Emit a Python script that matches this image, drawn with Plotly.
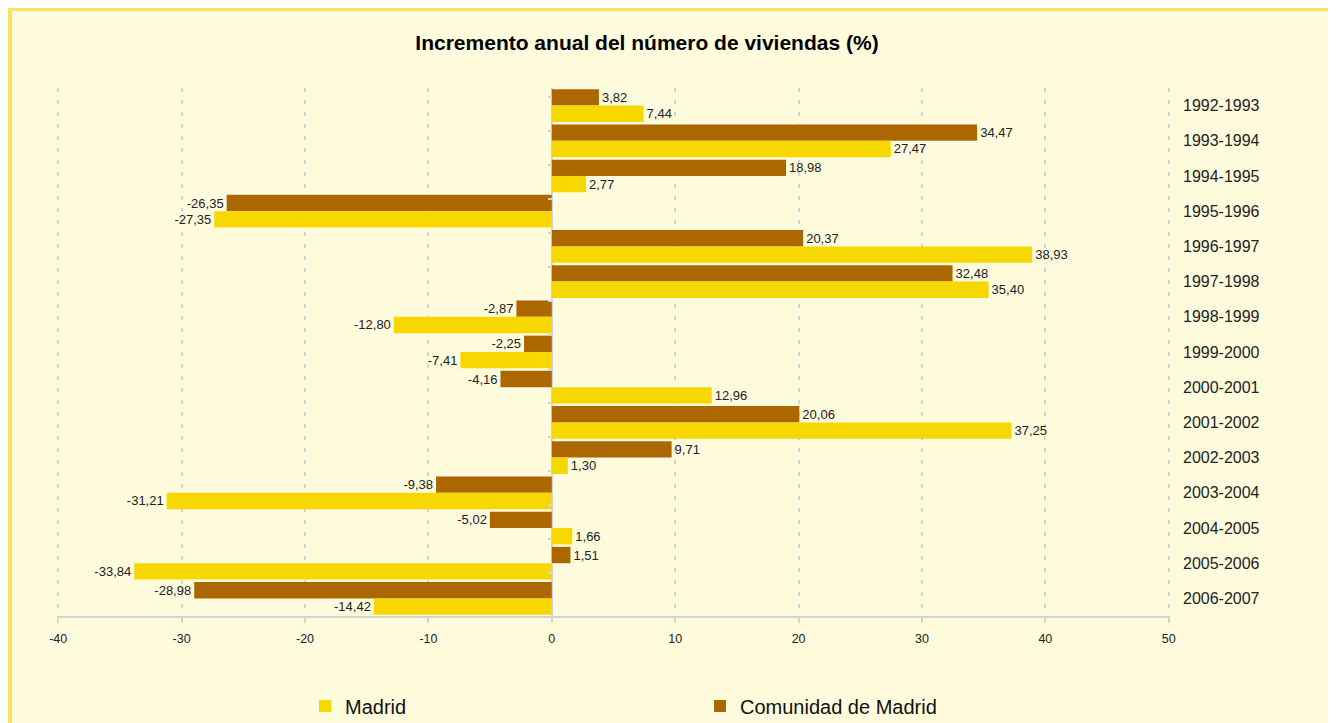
import plotly.graph_objects as go

periods = ["1992-1993", "1993-1994", "1994-1995", "1995-1996", "1996-1997",
           "1997-1998", "1998-1999", "1999-2000", "2000-2001", "2001-2002",
           "2002-2003", "2003-2004", "2004-2005", "2005-2006", "2006-2007"]
madrid = [7.44, 27.47, 2.77, -27.35, 38.93, 35.40, -12.80, -7.41, 12.96, 37.25,
          1.30, -31.21, 1.66, -33.84, -14.42]
comunidad = [3.82, 34.47, 18.98, -26.35, 20.37, 32.48, -2.87, -2.25, -4.16, 20.06,
             9.71, -9.38, -5.02, 1.51, -28.98]
x_ticks = [-40, -30, -20, -10, 0, 10, 20, 30, 40, 50]

def fmt(vals):
    return [f"{v:.2f}".replace(".", ",") for v in vals]

FONT = "Liberation Sans, Arial, sans-serif"
YELLOW = "#F6D700"
BROWN = "#AD6700"
BG = "#FEFCDD"
BORDER = "#FBE066"
GRID = "#D4D4D4"

W, H = 1328, 715
L, R, T, B = 49, 166, 80, 107
PW, PH = W - L - R, H - T - B
XMIN, XMAX = -40.1, 50.1

fig = go.Figure()
fig.add_trace(go.Bar(
    y=periods, x=comunidad, orientation="h", name="Comunidad de Madrid",
    marker=dict(color=BROWN, line=dict(width=0)),
    text=fmt(comunidad), textposition="outside", cliponaxis=False,
    constraintext="none", textfont=dict(size=13, color="#222222", family=FONT),
    legendrank=2,
))
fig.add_trace(go.Bar(
    y=periods, x=madrid, orientation="h", name="Madrid",
    marker=dict(color=YELLOW, line=dict(width=0)),
    text=fmt(madrid), textposition="outside", cliponaxis=False,
    constraintext="none", textfont=dict(size=13, color="#222222", family=FONT),
    legendrank=1,
))
# invisible helper trace carrying the category axis drawn at x = 0 (boundary ticks)
fig.add_trace(go.Scatter(
    y=periods, x=comunidad, yaxis="y2", mode="none", showlegend=False,
    hoverinfo="skip",
))

fig.update_layout(
    width=W, height=H,
    margin=dict(l=L, r=R, t=T, b=B, autoexpand=False),
    paper_bgcolor="white",
    plot_bgcolor=BG,
    font=dict(family=FONT, color="#222222"),
    barmode="group", bargap=0.07, bargroupgap=0,
    title=dict(text="<b>Incremento anual del número de viviendas (%)</b>",
               font=dict(size=21, color="black", family=FONT),
               x=639 / W, xref="container", xanchor="center",
               y=1 - 35 / H, yref="container", yanchor="middle"),
    xaxis=dict(range=[XMIN, XMAX], tickvals=x_ticks, ticktext=[str(t) for t in x_ticks],
               showgrid=True, gridcolor=GRID, gridwidth=2, griddash="4px,8px",
               zeroline=True, zerolinecolor=GRID, zerolinewidth=2,
               showline=True, linecolor=GRID, linewidth=2,
               ticks="outside", ticklen=5, tickcolor=GRID, tickwidth=2,
               ticklabelstandoff=5,
               tickfont=dict(size=12.5, color="#222222")),
    yaxis=dict(autorange="reversed", side="right", showgrid=False, zeroline=False,
               showline=False, ticks="", ticklabelstandoff=12,
               tickfont=dict(size=16, color="#222222")),
    yaxis2=dict(overlaying="y", anchor="free", position=(0 - XMIN) / (XMAX - XMIN),
                side="left", type="category", categoryorder="array",
                categoryarray=periods, autorange="reversed",
                ticks="outside", tickson="boundaries", ticklen=4, tickwidth=2,
                tickcolor=GRID, showticklabels=False, showgrid=False,
                zeroline=False, showline=False),
    legend=dict(orientation="h", xref="container", x=297 / W, xanchor="left",
                yref="container", y=1 - 698 / H, yanchor="middle", entrywidth=350,
                bgcolor="rgba(0,0,0,0)", font=dict(size=20, color="#111111")),
    shapes=[dict(type="rect", xref="paper", yref="paper", layer="below",
                 x0=(1.5 - L) / PW, x1=(1325.5 - L) / PW,
                 y0=(T + PH - 760) / PH, y1=(T + PH - 0.5) / PH,
                 fillcolor=BG, line=dict(color=BORDER, width=5))],
)

fig.write_html("out.html")
